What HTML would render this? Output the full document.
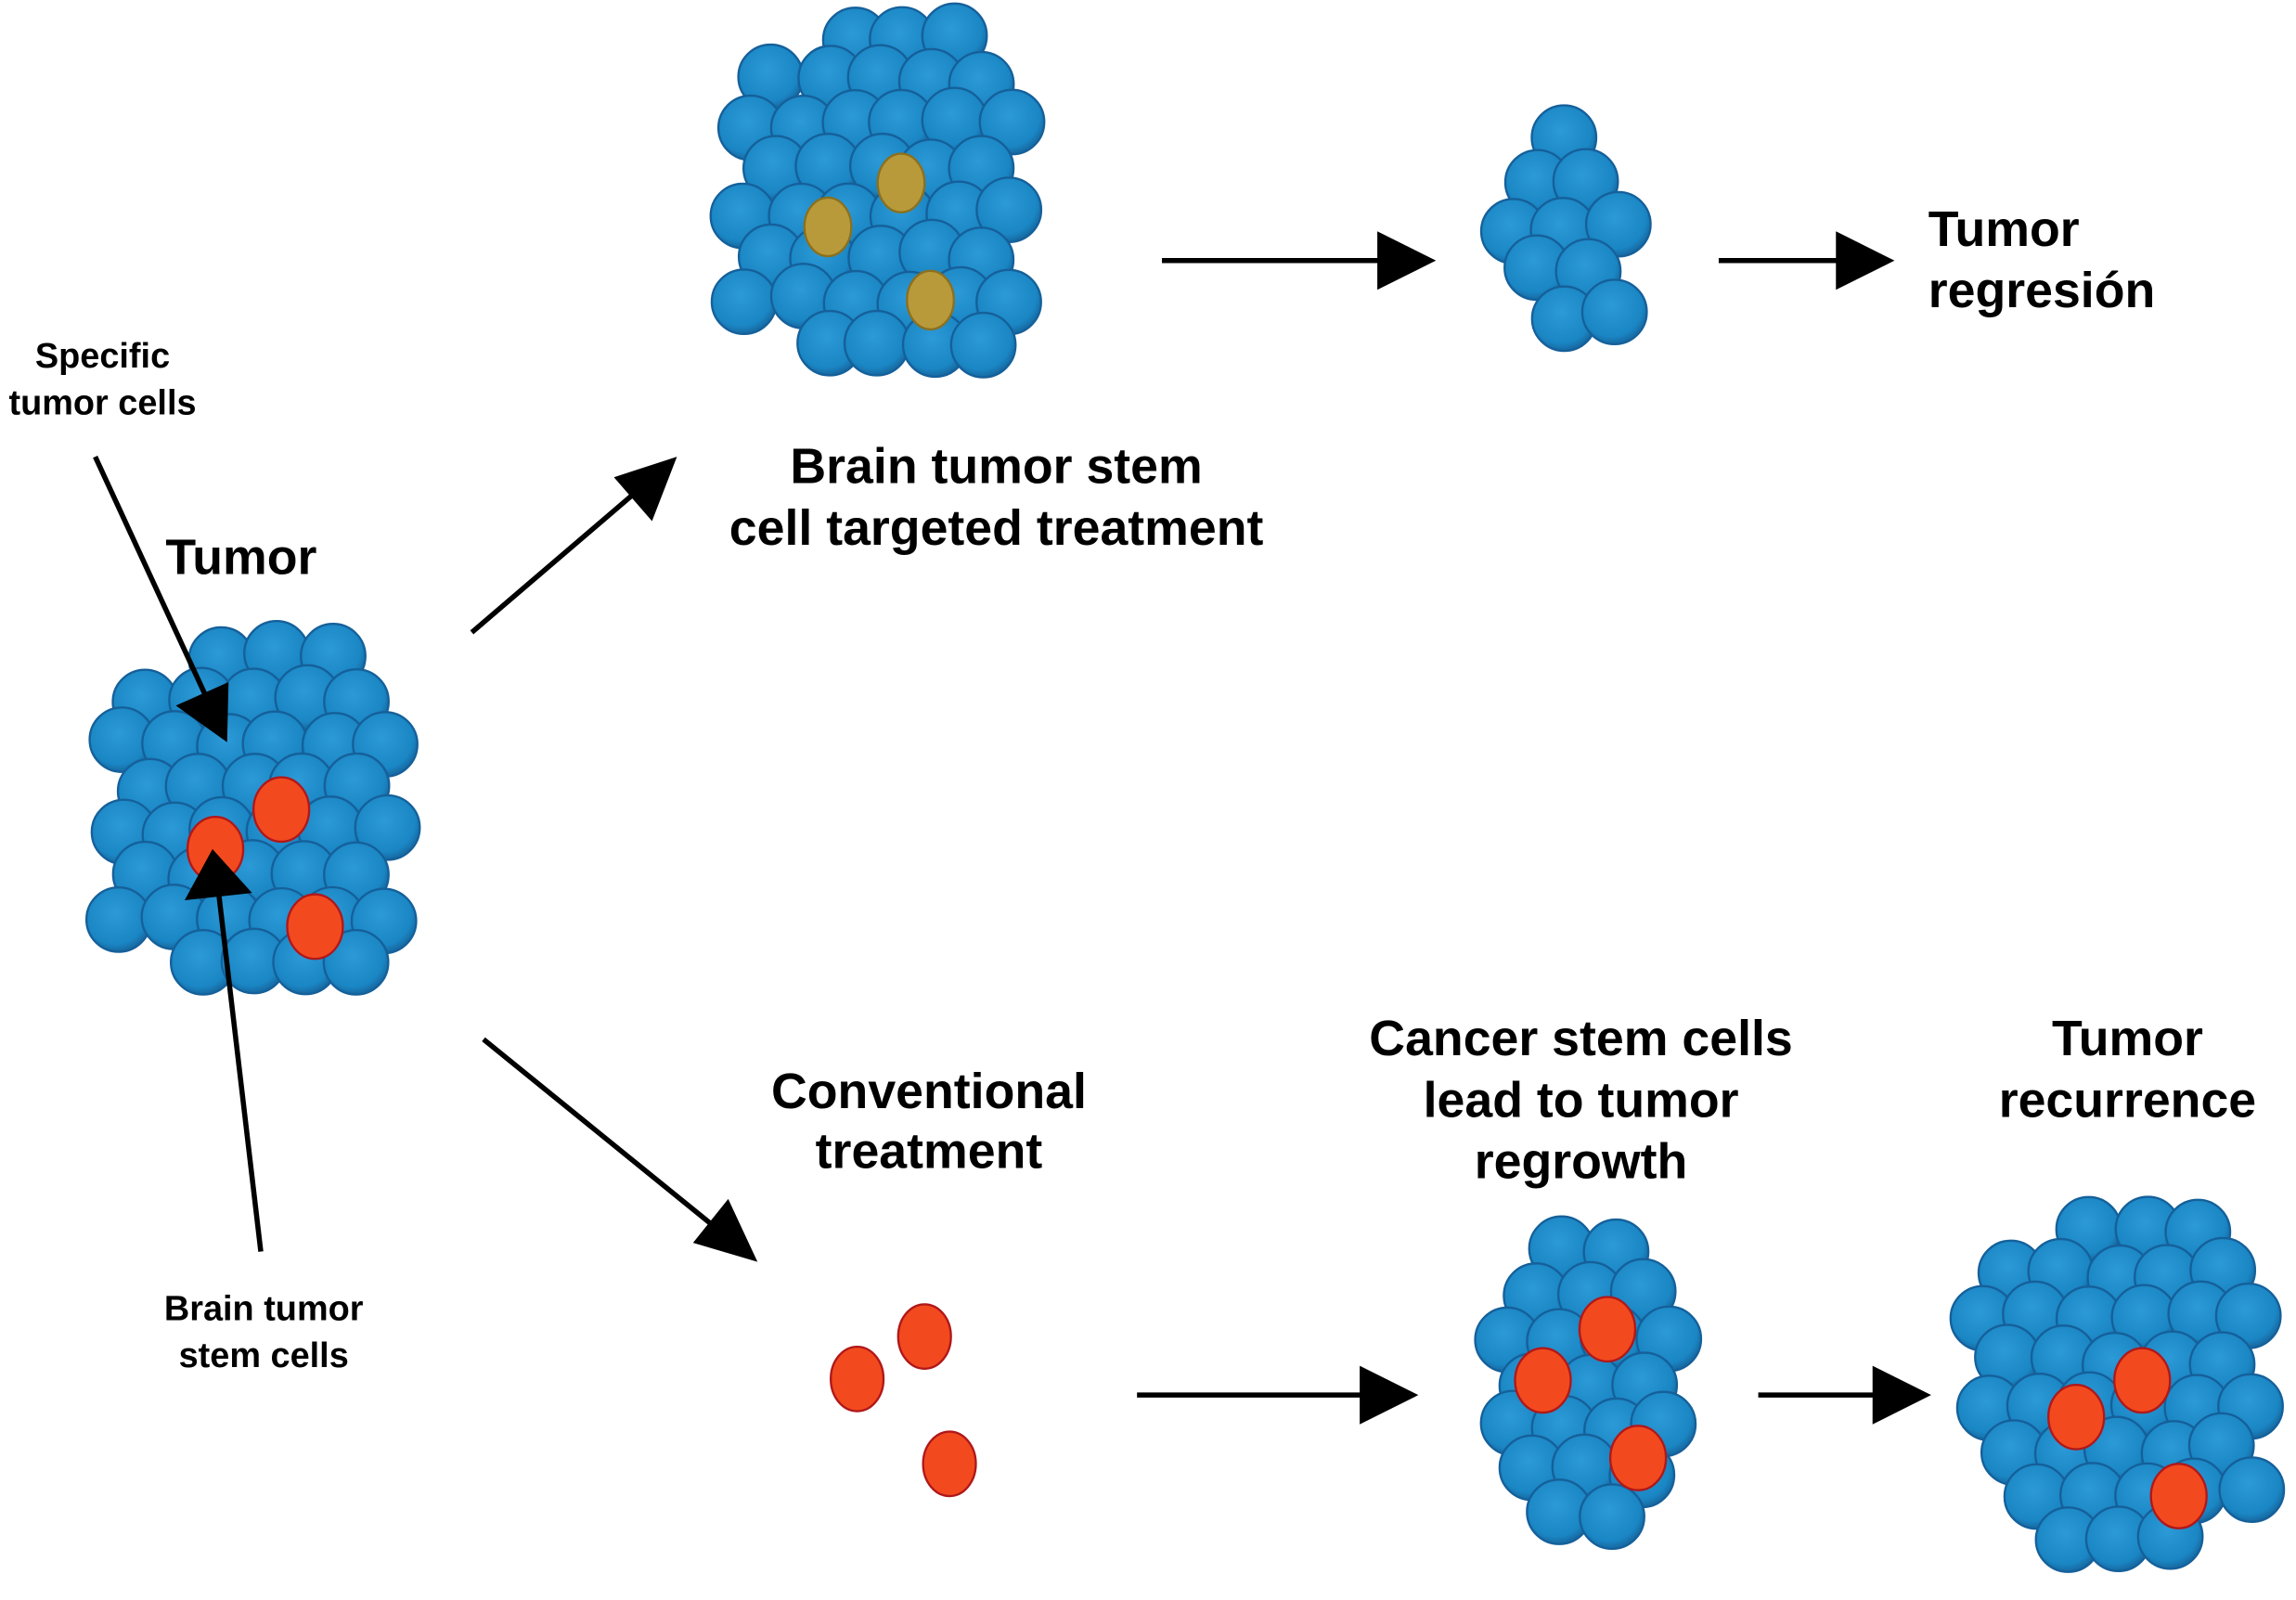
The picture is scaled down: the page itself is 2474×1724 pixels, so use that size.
<!DOCTYPE html>
<html><head><meta charset="utf-8"><style>
html,body{margin:0;padding:0;background:#fff;}
svg{display:block;}
text{font-family:"Liberation Sans",sans-serif;font-weight:bold;fill:#000;}
</style></head><body>
<svg id="s" width="2474" height="1724" viewBox="0 0 1567 1093" preserveAspectRatio="none" xmlns="http://www.w3.org/2000/svg">
<defs>
<radialGradient id="bg" cx="45%" cy="40%" r="60%"><stop offset="0" stop-color="#2d9ad8"/><stop offset="0.8" stop-color="#1a86c4"/><stop offset="1" stop-color="#1768a0"/></radialGradient>
</defs>
<g id="cells"></g>
<g stroke="#000" stroke-width="3.5" fill="none">
<line x1="793" y1="178" x2="945" y2="178"/>
<line x1="1173" y1="178" x2="1258" y2="178"/>
<line x1="776" y1="953" x2="932" y2="953"/>
<line x1="1200" y1="953" x2="1282" y2="953"/>
<line x1="322" y1="432" x2="440" y2="331"/>
<line x1="330" y1="710" x2="495" y2="844"/>
<line x1="65" y1="312" x2="143" y2="481"/>
<line x1="178" y1="855" x2="149" y2="608"/>
</g>
<g fill="#000">
<polygon points="980,178 940,158 940,198"/>
<polygon points="1293,178 1253,158 1253,198"/>
<polygon points="968,953 928,933 928,973"/>
<polygon points="1318,953 1278,933 1278,973"/>
<polygon points="462,312 419,326 445,356"/>
<polygon points="517,862 473,849 497,819"/>
<polygon points="155,507 120,482 156,466"/>
<polygon points="145,580 126,615 172,610"/>
</g>
<g font-size="34" text-anchor="middle">
<text x="680" y="330">Brain tumor stem</text>
<text x="680" y="372">cell targeted treatment</text>
<text x="634" y="757">Conventional</text>
<text x="634" y="798">treatment</text>
<text x="1079" y="721">Cancer stem cells</text>
<text x="1079" y="763">lead to tumor</text>
<text x="1079" y="805">regrowth</text>
<text x="1452" y="721">Tumor</text>
<text x="1452" y="763">recurrence</text>
</g>
<g font-size="34">
<text x="1316" y="168">Tumor</text>
<text x="1316" y="210">regresión</text>
<text x="113" y="392">Tumor</text>
</g>
<g font-size="24" text-anchor="middle">
<text x="70" y="251">Specific</text>
<text x="70" y="283">tumor cells</text>
<text x="180" y="902">Brain tumor</text>
<text x="180" y="934">stem cells</text>
</g>
</svg>
<script>
(function(){
var g=document.getElementById('cells'),ns='http://www.w3.org/2000/svg';
var seed=7;function rnd(){seed=(seed*16807)%2147483647;return seed/2147483647;}
function circ(x,y,rx,ry,fill,stroke){var e=document.createElementNS(ns,'ellipse');e.setAttribute('cx',x);e.setAttribute('cy',y);e.setAttribute('rx',rx);e.setAttribute('ry',ry);e.setAttribute('fill',fill);e.setAttribute('stroke',stroke);e.setAttribute('stroke-width',1.5);g.appendChild(e);}
function cluster(x0,x1,y0,y1,reds,golds){
 var cx=(x0+x1)/2,cy=(y0+y1)/2,rx=(x1-x0)/2-18,ry=(y1-y0)/2-18,pts=[];
 for(var y=y0+20,row=0;y<=y1-18;y+=30,row++){
  for(var x=x0+20+(row%2?18:0);x<=x1-18;x+=36){
   var dx=(x-cx)/rx,dy=(y-cy)/ry;
   if(dx*dx*0.75+dy*dy*0.85<=1.05) pts.push([x+(rnd()-0.5)*6,y+(rnd()-0.5)*6]);
  }}
 pts.forEach(function(p){circ(p[0],p[1],22,22,'url(#bg)','#15609a');});
 golds.forEach(function(p){circ(p[0],p[1],16,20,'#b89a3a','#8a7020');});
 reds.forEach(function(p){circ(p[0],p[1],19,22,'#f24a1e','#b0181a');});
}
cluster(62,292,428,695,[[147,580],[192,553],[215,633]],[]);
cluster(490,718,5,272,[],[[565,155],[615,125],[635,205]]);
cluster(1010,1133,75,255,[],[]);
cluster(1010,1165,835,1058,[[1097,908],[1053,943],[1118,996]],[]);
cluster(1335,1560,820,1080,[[1417,968],[1462,943],[1487,1022]],[]);
circ(585,942,18,22,'#f24a1e','#b0181a');
circ(631,913,18,22,'#f24a1e','#b0181a');
circ(648,1000,18,22,'#f24a1e','#b0181a');
})();
</script>
</body></html>
